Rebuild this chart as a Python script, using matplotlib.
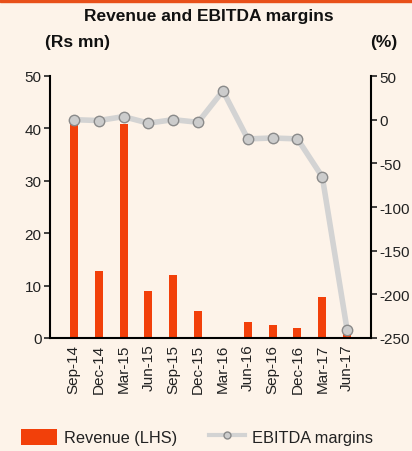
import matplotlib
matplotlib.use("Agg")
import matplotlib.pyplot as plt
from matplotlib.lines import Line2D
from matplotlib.patches import Patch
import numpy as np

categories = ["Sep-14", "Dec-14", "Mar-15", "Jun-15", "Sep-15", "Dec-15",
              "Mar-16", "Jun-16", "Sep-16", "Dec-16", "Mar-17", "Jun-17"]
revenue = [41.5, 12.8, 40.8, 9.0, 12.0, 5.2, 0.0, 3.0, 2.5, 2.0, 7.8, 0.8]
ebitda_margin = [0, -1, 3.5, -4, 0, -3, 33, -22, -21, -22, -65.5, -241]

left_ticks = [0, 10, 20, 30, 40, 50]
right_ticks = [50, 0, -50, -100, -150, -200, -250]

bg = "#FDF3E9"
orange = "#F2400A"
plt.rcParams["font.family"] = ["Liberation Sans", "DejaVu Sans"]
plt.rcParams["axes.unicode_minus"] = False

fig = plt.figure(figsize=(4.12, 4.52), dpi=100, facecolor=bg)
ax = fig.add_axes([50/412, 1-339/452, 321/412, 262/452])
ax.set_facecolor(bg)
x = np.arange(len(categories))
ax.bar(x, revenue, width=0.32, color=orange, zorder=2)
ax.set_ylim(0, 50)
ax.set_xlim(-0.96, 11.96)
ax.set_yticks(left_ticks)
ax.set_xticks(x)
ax.set_xticklabels(categories, rotation=90, fontsize=11, color="#222222")
ax.tick_params(axis="x", length=0, pad=4)
ax.tick_params(axis="y", labelsize=11, colors="#222222", length=4, width=1.2, pad=2)
for s in ["top", "right"]:
    ax.spines[s].set_visible(False)
ax.spines["left"].set_linewidth(1.5)
ax.spines["bottom"].set_linewidth(1.5)

ax2 = ax.twinx()
ax2.plot(x, ebitda_margin, color="#D3D3D3", lw=4, marker="o", markersize=7.5,
         markerfacecolor="#CCCCCC", markeredgecolor="#8A8A8A", markeredgewidth=1, zorder=3)
ax2.set_ylim(-250, 50)
ax2.set_yticks(right_ticks)
ax2.tick_params(axis="y", labelsize=11, colors="#222222", length=4, width=1.2, pad=2)
for s in ["top", "left", "bottom"]:
    ax2.spines[s].set_visible(False)
ax2.spines["right"].set_linewidth(1.5)

fig.text(209/412, 1-17/452, "Revenue and EBITDA margins", ha="center", va="center",
         fontsize=12.5, fontweight="bold", color="#111111")
fig.text(45/412, 1-42/452, "(Rs mn)", ha="left", va="center",
         fontsize=12.5, fontweight="bold", color="#111111")
fig.text(397/412, 1-42/452, "(%)", ha="right", va="center",
         fontsize=12.5, fontweight="bold", color="#111111")

# top orange strip
fig.patches.append(plt.Rectangle((0, 1-2.5/452), 1, 2.5/452, transform=fig.transFigure,
                                 color="#E8501A", zorder=5))

handles = [Patch(facecolor=orange, edgecolor="none"),
           Line2D([0], [0], color="#D3D3D3", lw=3, marker="o", markersize=5,
                  markerfacecolor="#CCCCCC", markeredgecolor="#8A8A8A")]
fig.legend(handles, ["Revenue (LHS)", "EBITDA margins"], loc="center",
           bbox_to_anchor=(197/412, 1-438/452), ncol=2, frameon=False,
           fontsize=11.8, handlelength=2.2, handleheight=1.15, columnspacing=1.9,
           handletextpad=0.45, labelcolor="#222222", borderpad=0, borderaxespad=0)

fig.savefig("out.png", dpi=100, facecolor=bg)
